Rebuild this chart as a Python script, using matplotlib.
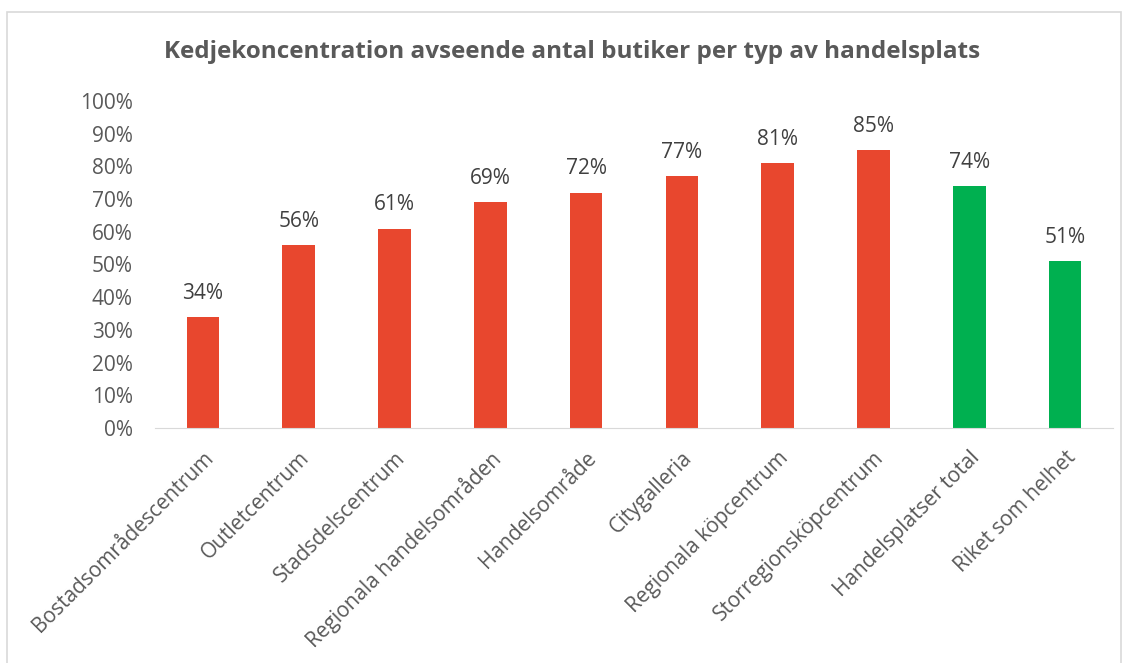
import numpy as np
import matplotlib.pyplot as plt
from matplotlib.patches import Rectangle
from matplotlib.ticker import PercentFormatter

plt.rcParams['font.family'] = ['Open Sans', 'DejaVu Sans']

categories = ['Bostadsområdescentrum', 'Outletcentrum', 'Stadsdelscentrum',
              'Regionala handelsområden', 'Handelsområde', 'Citygalleria',
              'Regionala köpcentrum', 'Storregionsköpcentrum',
              'Handelsplatser total', 'Riket som helhet']
values = [0.34, 0.56, 0.61, 0.69, 0.72, 0.77, 0.81, 0.85, 0.74, 0.51]
bar_colors = ['#E8472E'] * 8 + ['#00B050'] * 2

fig = plt.figure(figsize=(11.29, 6.63), dpi=100)
ax = fig.add_axes([0.1373, 0.3545, 0.8485, 0.4932])

x = np.arange(len(categories))
ax.bar(x, values, width=0.34, color=bar_colors)

for xi, v in zip(x, values):
    ax.text(xi, v + 0.04, f'{v:.0%}', ha='center', va='bottom',
            fontsize=15, color='#404040')

ax.set_xlim(-0.5, len(categories) - 0.5)
ax.set_ylim(0, 1)
ax.set_yticks(np.arange(0, 1.01, 0.1))
ax.yaxis.set_major_formatter(PercentFormatter(1.0, decimals=0))
ax.set_xticks(x)
ax.set_xticklabels(categories, rotation=45, ha='right', rotation_mode='anchor')

for s in ['top', 'right', 'left']:
    ax.spines[s].set_visible(False)
ax.spines['bottom'].set_color('#D9D9D9')
ax.tick_params(axis='both', length=0, labelsize=15, labelcolor='#595959')
ax.tick_params(axis='x', pad=14)
ax.tick_params(axis='y', pad=16)

fig.text(0.507, 0.922, 'Kedjekoncentration avseende antal butiker per typ av handelsplats',
         ha='center', va='center', fontsize=17.5, fontweight='bold', color='#595959')

fig.patches.append(Rectangle((7 / 1129, -0.01), 1114 / 1129, 1 - 12 / 663 + 0.01,
                             transform=fig.transFigure, fill=False,
                             edgecolor='#D9D9D9', linewidth=1.2))

fig.savefig('out.png', dpi=100)
